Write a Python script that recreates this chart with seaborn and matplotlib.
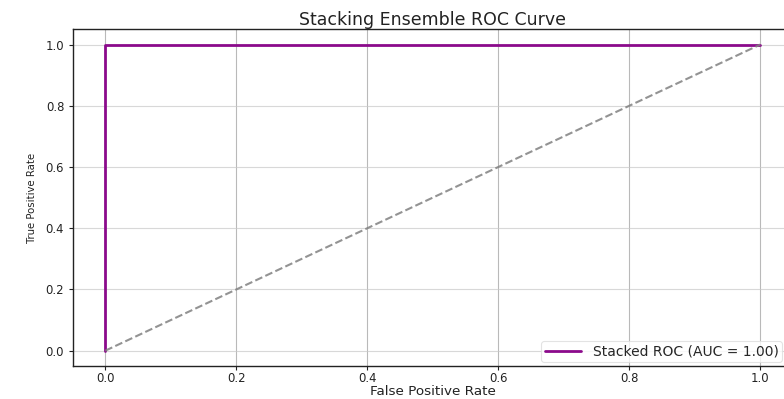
import matplotlib
matplotlib.use("Agg")
import matplotlib.pyplot as plt
from matplotlib import font_manager as fm
import seaborn as sns

fpr = [0.0, 0.0, 1.0]
tpr = [0.0, 1.0, 1.0]
chance_x = [0.0, 1.0]
chance_y = [0.0, 1.0]
auc_value = 1.00
title = "Stacking Ensemble ROC Curve"
xlabel = "False Positive Rate"
ylabel = "True Positive Rate"
ticks = [0.0, 0.2, 0.4, 0.6, 0.8, 1.0]

sns.set_style("ticks")
plt.rcParams['font.family'] = ['DejaVu Sans']

# pick a narrow font for the y label if available
ylab_kw = dict(fontsize=8)
for fam, stretch, key in [("Liberation Sans Narrow", "normal", "Narrow"),
                          ("DejaVu Sans", "condensed", "Condensed")]:
    try:
        path = fm.findfont(fm.FontProperties(family=fam, stretch=stretch),
                           fallback_to_default=False)
        if key in path:
            ylab_kw = dict(family=fam, fontstretch=stretch, fontsize=8.1)
            break
    except Exception:
        pass

fig = plt.figure(figsize=(7.84, 3.99), dpi=100)
ax = fig.add_axes([0.0925, 0.0827, 0.919, 0.844])

sns.lineplot(x=fpr, y=tpr, sort=False, estimator=None, color='#8b0a8b', lw=2,
             label=f"Stacked ROC (AUC = {auc_value:.2f})", ax=ax)
sns.lineplot(x=chance_x, y=chance_y, sort=False, estimator=None, color='gray',
             lw=1.5, linestyle='--', alpha=0.85, ax=ax)

ax.set_xlim(-0.05, 1.05)
ax.set_ylim(-0.05, 1.05)
ax.set_xticks(ticks)
ax.set_yticks(ticks)
ax.tick_params(labelsize=8.4, length=3, width=0.8, colors='#222222', pad=1.5)
ax.tick_params(axis='y', pad=3)
ax.grid(True, axis='x', color='#a8a8a8', lw=0.8, alpha=0.8)
ax.grid(True, axis='y', color='#c8c8c8', lw=0.8, alpha=0.7)
for s in ax.spines.values():
    s.set_color('#222222')
    s.set_linewidth(1.0)

ax.set_title(title, fontsize=12.5, color='#222222', pad=1.5)
ax.set_xlabel(xlabel, fontsize=9.7, labelpad=0, color='#222222')
ax.set_ylabel(ylabel, labelpad=6, color='#222222', **ylab_kw)

leg = ax.legend(loc='lower right', bbox_to_anchor=(0.985, 0.012), borderaxespad=0,
                fontsize=10, frameon=True, fancybox=True, handlelength=2.6,
                handletextpad=0.85, borderpad=0.25)
leg.get_frame().set_edgecolor('#dddddd')
leg.get_frame().set_linewidth(0.8)

fig.savefig("out.png", dpi=100)
